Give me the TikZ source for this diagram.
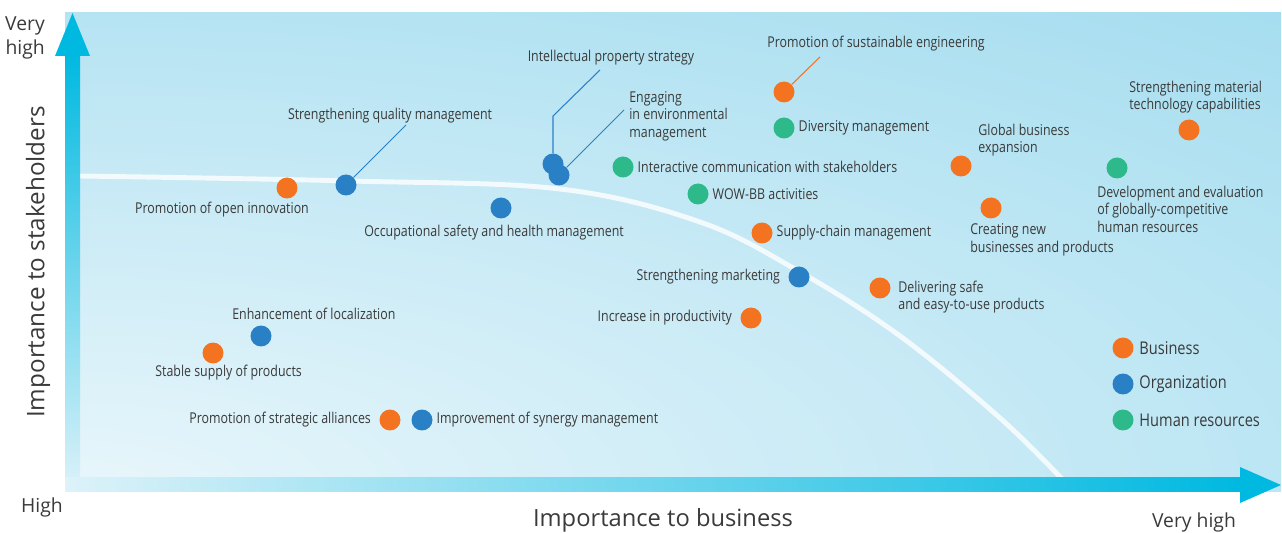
\documentclass[tikz,border=0pt]{standalone}
\usepackage{fontspec}
\setmainfont{Open Sans}
\newfontfamily\condfont[FakeStretch=0.83]{Open Sans}
\usetikzlibrary{positioning}

\definecolor{bizorange}{HTML}{F47321}
\definecolor{orgblue}{HTML}{2A80C5}
\definecolor{humgreen}{HTML}{2DB98A}
\definecolor{axcyan}{HTML}{00B9E0}
\definecolor{axpale}{HTML}{DDF2F9}
\definecolor{panelpale}{HTML}{E8F6FB}
\definecolor{panelsky}{HTML}{8AD3EB}
\definecolor{inkgray}{HTML}{3A3A3A}

\newcommand\lblfont{\condfont\fontsize{8.5}{10}\selectfont}
\newcommand\keyfont{\condfont\fontsize{10}{12}\selectfont}

\begin{document}
\begin{tikzpicture}[x=0.02cm, y=-0.02cm,
  dot/.style = {circle, inner sep=0pt, minimum size=0.42cm},
  biz/.style = {dot, fill=bizorange},
  org/.style = {dot, fill=orgblue},
  hum/.style = {dot, fill=humgreen},
  lbl/.style = {font=\lblfont, text=inkgray, inner sep=0pt, align=left},
  key/.style = {font=\keyfont, text=inkgray, inner sep=0pt},
  leader/.style = {line width=0.6pt}]
\useasboundingbox (0,0) rectangle (1282,533);

% panel
\begin{scope}
  \clip (65,13) rectangle (1281,492);
  \shade[inner color=panelpale, outer color=panelsky] (65,492) ellipse (2600 and 900);
\end{scope}
\draw[white, opacity=0.8, line width=2.8pt] plot[smooth, tension=0.6] coordinates
  {(80,176) (350,181) (560,189) (700,222) (800,272) (900,336) (1000,418) (1063,480)};

% axes
\shade[top color=axcyan, bottom color=axpale] (65,55) rectangle (80,492);
\fill[axcyan] (55,56) -- (72.5,13) -- (90,56) -- cycle;
\shade[left color=axpale, right color=axcyan] (65,478) rectangle (1241,492);
\fill[axcyan] (1240,467) -- (1281,485) -- (1240,503) -- cycle;

\node[font=\fontsize{11}{14}\selectfont, text=inkgray, align=right, anchor=east] (vhigh-y) at (51,38) {Very\\high};
\node[font=\fontsize{11}{13}\selectfont, text=inkgray] (high) at (42,507) {High};
\node[font=\fontsize{11}{13}\selectfont, text=inkgray] (vhigh-x) at (1194,522) {Very high};
\node[font=\fontsize{13.5}{16}\selectfont, text=inkgray] (xtitle) at (663,520) {Importance to business};
\node[font=\fontsize{13.8}{16}\selectfont, text=inkgray, rotate=90] (ytitle) at (38,262) {Importance to stakeholders};

% leader ends
\coordinate (quality-end) at (406,125);
\coordinate (ip-bend) at (553,116);
\coordinate (ip-end) at (600,70);
\coordinate (env-end) at (624,110);
\coordinate (sustain-end) at (820,57);

% items
\node[biz] (innov) at (287,188) {};
\node[org] (quality) at (346,185) {};
\node[org] (safety) at (501,208) {};
\node[org] (ip) at (553,164) {};
\node[org] (env) at (559,175) {};
\node[hum] (comm) at (623,167) {};
\node[hum] (wow) at (698,194) {};
\node[biz] (sustain) at (784,92) {};
\node[hum] (diversity) at (784,128) {};
\node[biz] (supply) at (762,233) {};
\node[org] (marketing) at (799,277) {};
\node[biz] (productivity) at (751,318) {};
\node[biz] (delivering) at (880,288) {};
\node[biz] (global) at (961,166) {};
\node[biz] (creating) at (991,208) {};
\node[biz] (material) at (1189,130) {};
\node[hum] (develop) at (1117,168) {};
\node[org] (local) at (261,336) {};
\node[biz] (stable) at (213,353) {};
\node[biz] (alliance) at (390,420) {};
\node[org] (synergy) at (422,420) {};

\draw[leader, orgblue] (quality) -- (quality-end);
\draw[leader, orgblue] (ip) -- (ip-bend) -- (ip-end);
\draw[leader, orgblue] (env) -- (env-end);
\draw[leader, bizorange] (sustain) -- (sustain-end);

% labels
\node[lbl] (innov-l) at (222,210) {Promotion of open innovation};
\node[lbl] (quality-l) at (390,116) {Strengthening quality management};
\node[lbl] (safety-l) at (494,233) {Occupational safety and health management};
\node[lbl] (ip-l) at (611,58) {Intellectual property strategy};
\node[lbl, anchor=west] (env-l) at (629,116) {Engaging\\in environmental\\management};
\node[lbl, right=2pt of comm] (comm-l) {Interactive communication with stakeholders};
\node[lbl, right=2pt of wow] (wow-l) {WOW-BB activities};
\node[lbl] (sustain-l) at (876,44) {Promotion of sustainable engineering};
\node[lbl, right=2pt of diversity] (diversity-l) {Diversity management};
\node[lbl, right=2pt of supply] (supply-l) {Supply-chain management};
\node[lbl, left=4.5pt of marketing] (marketing-l) {Strengthening marketing};
\node[lbl, left=4.5pt of productivity] (productivity-l) {Increase in productivity};
\node[lbl, anchor=west] (delivering-l) at (898,297) {Delivering safe\\and easy-to-use products};
\node[lbl, anchor=west] (global-l) at (978,140) {Global business\\expansion};
\node[lbl, anchor=west] (creating-l) at (970,240) {Creating new\\businesses and products};
\node[lbl, anchor=west] (material-l) at (1129,97) {Strengthening material\\technology capabilities};
\node[lbl, anchor=west] (develop-l) at (1097,209) {Development and evaluation\\of globally-competitive\\human resources};
\node[lbl, anchor=west] (local-l) at (232,314) {Enhancement of localization};
\node[lbl, anchor=west] (stable-l) at (155,373) {Stable supply of products};
\node[lbl, left=4.5pt of alliance] (alliance-l) {Promotion of strategic alliances};
\node[lbl, right=2pt of synergy] (synergy-l) {Improvement of synergy management};

% legend
\node[biz] (key-biz) at (1123,348) {};
\node[org] (key-org) at (1123,384) {};
\node[hum] (key-hum) at (1123,420) {};
\node[key, right=3pt of key-biz] (key-biz-l) {Business};
\node[key, right=3pt of key-org] (key-org-l) {Organization};
\node[key, right=3pt of key-hum] (key-hum-l) {Human resources};
\end{tikzpicture}
\end{document}
